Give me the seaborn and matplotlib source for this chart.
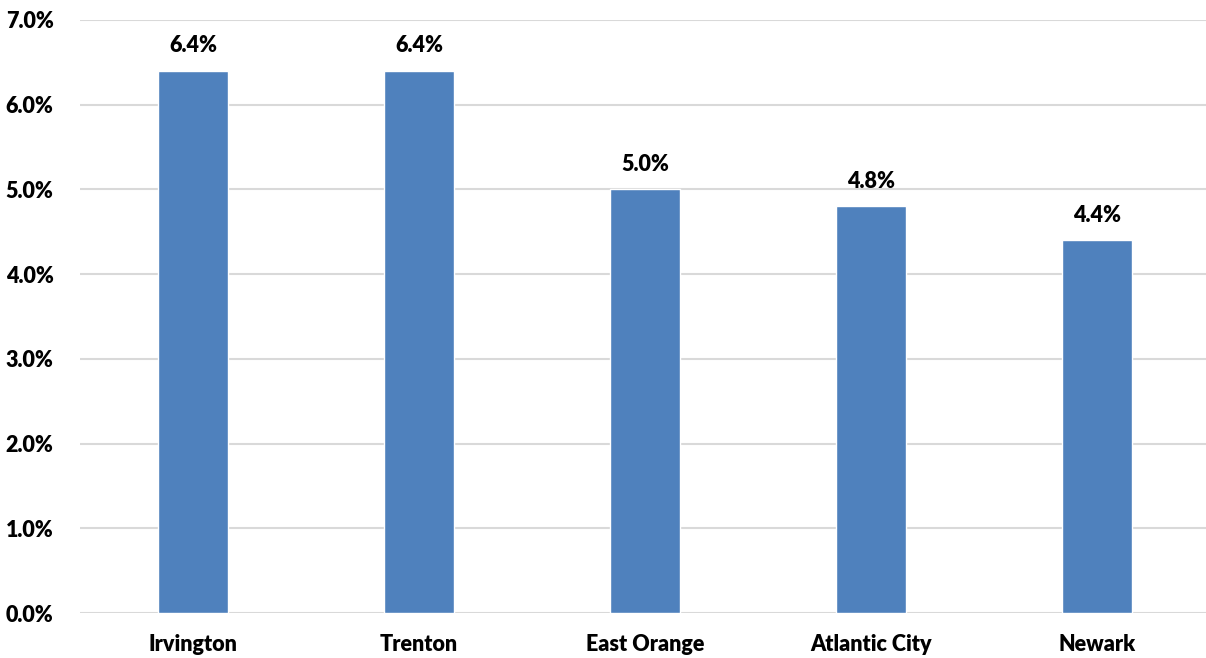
import matplotlib
matplotlib.use("Agg")
import matplotlib.pyplot as plt
import seaborn as sns
import pandas as pd

cities = ["Irvington", "Trenton", "East Orange", "Atlantic City", "Newark"]
rates = [6.4, 6.4, 5.0, 4.8, 4.4]
y_ticks = [0, 1, 2, 3, 4, 5, 6, 7]

sns.set_theme(style="white")
plt.rcParams["font.family"] = ["Lato", "DejaVu Sans"]

df = pd.DataFrame({"city": cities, "rate": rates})

fig = plt.figure(figsize=(12.06, 6.58), dpi=100)
ax = fig.add_axes([80 / 1206, 45 / 658, 1130 / 1206, 593 / 658])

sns.barplot(data=df, x="city", y="rate", color="#4F81BD", saturation=1,
            width=0.31, ax=ax, zorder=3)

label_kw = dict(fontsize=15.5, fontweight="heavy")

ax.set_ylim(0, 7)
ax.set_xlim(-0.5, 4.5)
ax.set_yticks(y_ticks)
ax.set_yticklabels([f"{t:.1f}%" for t in y_ticks], **label_kw)
ax.set_xticks(range(len(cities)))
ax.set_xticklabels(cities, **label_kw)
ax.tick_params(axis="both", length=0, colors="black")
ax.tick_params(axis="y", pad=19)
ax.tick_params(axis="x", pad=15)
ax.set_xlabel("")
ax.set_ylabel("")

ax.yaxis.grid(True, color="#d9d9d9", linewidth=1.5, zorder=0)
for s in ax.spines.values():
    s.set_visible(False)

for i, v in enumerate(rates):
    ax.text(i, v + 0.17, f"{v:.1f}%", ha="center", va="bottom",
            color="black", **label_kw)

fig.savefig("out.png", dpi=100)
